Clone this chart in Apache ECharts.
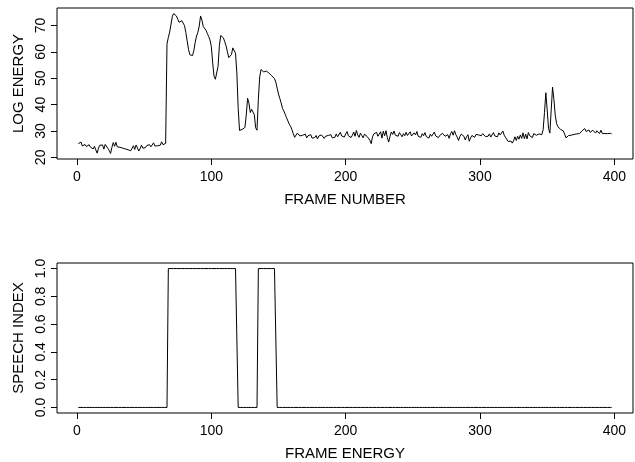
<!DOCTYPE html>
<html lang="en">
<head>
  <meta charset="UTF-8" />
  <title>Log energy / speech index</title>
  <script src="https://cdn.jsdelivr.net/npm/echarts@6/dist/echarts.min.js"></script>
  <style>
    html, body { margin: 0; padding: 0; background: #fff; }
  </style>
</head>
<body>
  <div id="main" style="width: 635px; height: 462px;"></div>
  <script type="text/javascript">
    // log energy per frame, frames 1..398
    var logEnergy = [
      25.2, 24.6, 25.8, 24.3, 23.6, 24.9, 24.1, 23.4, 24.8, 23.9,
      24.5, 23.2, 24.2, 22.8, 21.6, 23.5, 24.6, 23.9, 24.7, 23.1,
      24.9, 25.3, 23.4, 22.6, 21.5, 23.8, 25.6, 24.2, 25.7, 24.0,
      24.6, 23.8, 24.1, 23.5, 23.9, 23.2, 23.6, 22.9, 23.4, 22.5,
      23.1, 24.4, 23.0, 24.7, 23.6, 22.4, 23.3, 24.6, 23.5, 24.1,
      23.7, 24.5, 24.2, 24.8, 24.0, 24.6, 25.5, 24.3, 23.8, 24.4,
      24.1, 24.6, 25.9, 24.8, 25.2, 25.3, 63.0, 65.5, 67.5, 70.5,
      73.5, 74.5, 74.3, 73.6, 72.4, 71.2, 70.6, 71.8, 71.6, 70.0,
      67.4, 64.2, 61.0, 58.9, 58.2, 58.6, 60.5, 63.6, 66.0, 67.4,
      69.8, 73.6, 72.0, 69.6, 69.1, 68.2, 67.0, 65.8, 64.5, 62.0,
      55.8, 50.8, 49.6, 49.8, 54.5, 62.5, 66.2, 66.5, 65.3, 63.8,
      62.2, 60.0, 57.8, 57.5, 59.0, 61.5, 62.2, 59.5, 52.0, 38.5,
      30.2, 30.0, 30.6, 30.9, 31.3, 36.0, 42.4, 40.5, 37.0, 38.2,
      38.8, 36.2, 31.2, 30.3, 42.0, 50.5, 53.3, 52.8, 52.4, 52.9,
      52.7, 52.5, 51.9, 51.4, 50.9, 50.5, 49.9, 48.5, 46.2, 44.0,
      42.3, 40.6, 38.5, 37.6, 36.3, 35.0, 33.8, 32.6, 31.8, 30.5,
      29.0, 27.6, 27.9, 29.2, 28.6, 28.1, 27.6, 28.4, 27.9, 28.8,
      27.4, 28.2, 27.7, 28.6, 27.3, 28.0, 27.5, 28.3, 27.0, 28.1,
      27.6, 28.5, 27.8, 27.2, 28.0, 27.5, 28.3, 27.9, 28.6, 27.4,
      28.0, 27.6, 28.9, 27.8, 28.4, 29.5, 28.1, 28.6, 27.7, 28.9,
      29.8, 28.2, 28.7, 27.5, 28.4, 29.6, 28.0, 30.2, 28.5, 27.6,
      29.2, 28.3, 27.4, 28.8, 29.4, 27.9, 28.6, 26.5, 25.2, 27.8,
      28.9, 28.3, 29.5, 28.0, 28.4, 29.7, 27.3, 29.9, 28.2, 30.1,
      27.5, 25.8, 27.9, 29.6, 28.7, 30.0, 28.4, 29.1, 28.0, 29.4,
      28.6, 27.8, 29.0, 28.2, 29.5, 28.3, 28.9, 29.7, 28.1, 27.4,
      29.3, 28.5, 29.8, 28.0, 28.7, 27.6, 29.0, 28.2, 29.4, 27.9,
      28.6, 27.3, 28.8, 28.0, 28.4, 29.6, 28.1, 28.7, 27.5, 28.3,
      27.9, 29.1, 28.5, 28.0, 27.4, 28.6, 27.2, 28.9, 29.8, 28.4,
      30.1, 28.6, 27.7, 26.4, 27.9, 28.8, 29.5, 28.0, 26.6, 27.8,
      28.6, 26.1, 27.4, 28.3, 28.9, 27.6, 28.7, 29.3, 28.5, 28.8,
      28.2, 29.0, 28.6, 27.9, 28.4, 28.0, 28.9, 27.7, 28.3, 29.4,
      28.1, 28.6, 27.8, 29.3, 28.5, 28.9, 30.0, 28.4, 27.6, 28.3,
      26.0, 25.6, 26.2, 25.4, 26.3, 27.8, 26.4, 28.0, 26.9, 28.5,
      27.2, 29.3, 27.1, 28.8, 27.0, 29.4, 28.2, 28.6, 27.5, 29.0,
      29.6, 28.4, 27.8, 28.9, 29.4, 28.6, 30.5, 37.0, 44.5, 38.0,
      31.0, 29.2, 38.0, 46.6, 42.0, 36.0, 32.8, 31.6, 31.0, 30.6,
      30.4, 30.0, 28.8, 27.4, 27.6, 28.3, 27.8, 28.4, 28.6, 28.7,
      28.3, 28.9, 29.2, 29.0, 29.5, 30.1, 29.6, 30.9, 29.8, 29.3,
      30.4, 29.5, 28.9, 30.3, 29.6, 29.2, 30.1, 29.4, 29.0, 30.3,
      29.1, 29.4, 29.0, 29.2, 29.0, 28.8, 29.1, 28.9
    ];

    // frames flagged as speech (inclusive ranges)
    var speechStart = [68, 135];
    var speechEnd = [119, 148];

    var xTicks = [0, 100, 200, 300, 400];
    var energyTicks = [20, 30, 40, 50, 60, 70];
    var speechTicks = [0, 0.2, 0.4, 0.6, 0.8, 1.0];

    var nFrames = logEnergy.length;
    var energyData = [];
    var speechData = [];
    for (var i = 0; i < nFrames; i++) {
      var f = i + 1;
      energyData.push([f, logEnergy[i]]);
      var on = 0;
      for (var k = 0; k < speechStart.length; k++) {
        if (f >= speechStart[k] && f <= speechEnd[k]) on = 1;
      }
      speechData.push([f, on]);
    }

    // R style 4% padding of the data range
    function pad(lo, hi) {
      var d = (hi - lo) * 0.04;
      return [lo - d, hi + d];
    }
    var xr = pad(1, nFrames);
    var er = pad(Math.min.apply(null, logEnergy), Math.max.apply(null, logEnergy));
    var sr = pad(0, 1);

    var font = 'Liberation Sans, Arial, Helvetica, sans-serif';

    function xAxisFor(gi, title) {
      return {
        type: 'value', gridIndex: gi, min: xr[0], max: xr[1],
        name: title, nameLocation: 'middle', nameGap: 33,
        nameTextStyle: { color: '#000', fontSize: 15, fontFamily: font },
        axisLine: { show: false, onZero: false },
        axisTick: { show: true, length: 6, customValues: xTicks, lineStyle: { color: '#000' } },
        axisLabel: { customValues: xTicks, margin: 11, color: '#000', fontSize: 14, fontFamily: font },
        splitLine: { show: false }
      };
    }

    function yAxisFor(gi, range, ticks, title, digits) {
      return {
        type: 'value', gridIndex: gi, min: range[0], max: range[1],
        name: title, nameLocation: 'middle', nameGap: 30,
        nameTextStyle: { color: '#000', fontSize: 15, fontFamily: font },
        axisLine: { show: false, onZero: false },
        axisTick: { show: true, length: 6, customValues: ticks, lineStyle: { color: '#000' } },
        axisLabel: {
          customValues: ticks, rotate: 90, margin: 9, color: '#000', fontSize: 14, fontFamily: font,
          formatter: function (v) { return v.toFixed(digits); }
        },
        splitLine: { show: false }
      };
    }

    var myChart = echarts.init(document.getElementById('main'));
    var option = {
      animation: false,
      backgroundColor: '#fff',
      grid: [
        { left: 57, right: 2, top: 8, height: 151, show: true, borderColor: '#000', borderWidth: 1 },
        { left: 57, right: 2, top: 263, height: 153, show: true, borderColor: '#000', borderWidth: 1 }
      ],
      xAxis: [
        xAxisFor(0, 'FRAME NUMBER'),
        xAxisFor(1, 'FRAME ENERGY')
      ],
      yAxis: [
        yAxisFor(0, er, energyTicks, 'LOG ENERGY', 0),
        yAxisFor(1, sr, speechTicks, 'SPEECH INDEX', 1)
      ],
      series: [
        {
          type: 'line', xAxisIndex: 0, yAxisIndex: 0, data: energyData,
          showSymbol: false, lineStyle: { color: '#000', width: 1 }
        },
        {
          type: 'line', xAxisIndex: 1, yAxisIndex: 1, data: speechData,
          showSymbol: false, lineStyle: { color: '#000', width: 1 }
        }
      ]
    };
    myChart.setOption(option);
  </script>
</body>
</html>
